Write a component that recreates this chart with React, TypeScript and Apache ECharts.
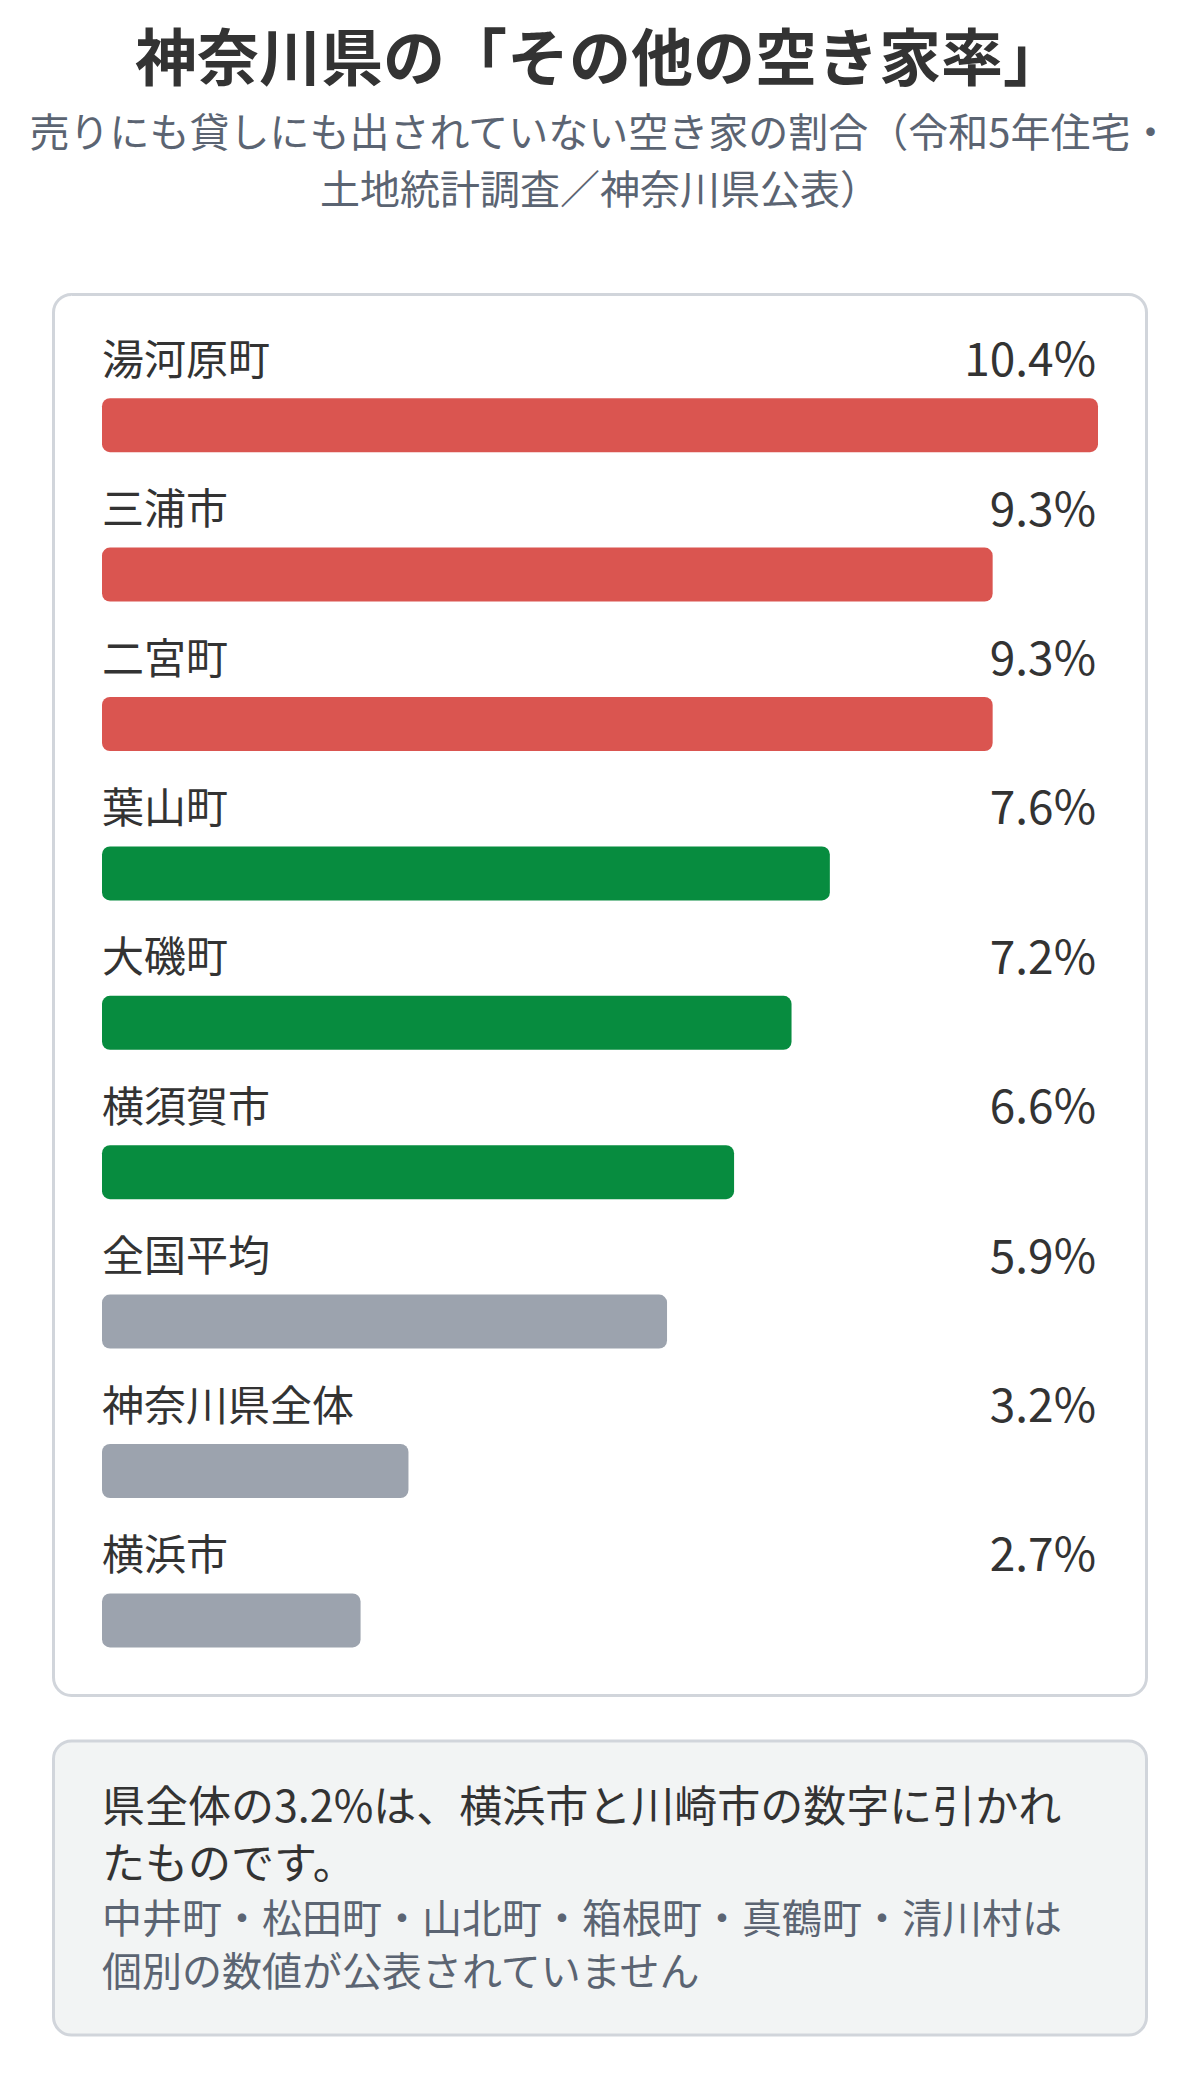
import React, { useEffect, useRef } from "react";
import * as echarts from "echarts";

// ---- data ----
const categories: string[] = [
  "湯河原町",
  "三浦市",
  "二宮町",
  "葉山町",
  "大磯町",
  "横須賀市",
  "全国平均",
  "神奈川県全体",
  "横浜市",
];
const values: number[] = [10.4, 9.3, 9.3, 7.6, 7.2, 6.6, 5.9, 3.2, 2.7];
const groups: string[] = ["high", "high", "high", "mid", "mid", "mid", "ref", "ref", "ref"];
const groupColors: Record<string, string> = {
  high: "#da5550",
  mid: "#078c3f",
  ref: "#9ca3ae",
};
const axisMax = 10.4;

const TITLE = "神奈川県の「その他の空き家率」";
const SUBTITLE_LINES: string[] = [
  "売りにも貸しにも出されていない空き家の割合（令和5年住宅・",
  "土地統計調査／神奈川県公表）",
];
const NOTE_MAIN: string[] = ["県全体の3.2%は、横浜市と川崎市の数字に引かれ", "たものです。"];
const NOTE_SUB: string[] = ["中井町・松田町・山北町・箱根町・真鶴町・清川村は", "個別の数値が公表されていません"];

const FONT = '"Noto Sans CJK JP", "Noto Sans", sans-serif';

export default function App() {
  const ref = useRef<HTMLDivElement>(null);

  useEffect(() => {
    if (!ref.current) return;
    const chart = echarts.init(ref.current, undefined, { renderer: "svg" });

    const BAR_H = 54;
    const LABEL_DY = -69;

    const option: any = {
      animation: false,
      backgroundColor: "#ffffff",
      title: [
        {
          text: TITLE,
          left: "center",
          top: 23,
          padding: 0,
          textStyle: {
            fontFamily: FONT,
            fontSize: 62,
            fontWeight: "bold",
            color: "#333333",
            lineHeight: 62,
          },
        },
        {
          text: SUBTITLE_LINES.join("\n"),
          left: "center",
          top: 101,
          padding: 0,
          textStyle: {
            fontFamily: FONT,
            fontSize: 40,
            fontWeight: "normal",
            color: "#5b6472",
            lineHeight: 57,
          },
        },
      ],
      graphic: [
        {
          type: "rect",
          z: 0,
          shape: { x: 53.5, y: 294.5, width: 1093, height: 1401, r: 18 },
          style: { fill: "#ffffff", stroke: "#d1d5db", lineWidth: 3 },
        },
        {
          type: "rect",
          z: 0,
          shape: { x: 53.5, y: 1741, width: 1093, height: 294, r: 18 },
          style: { fill: "#f2f4f4", stroke: "#d1d5db", lineWidth: 3 },
        },
        {
          type: "text",
          z: 1,
          x: 102,
          y: 1774,
          style: {
            text: NOTE_MAIN.join("\n"),
            fontFamily: FONT,
            fontSize: 43,
            lineHeight: 57,
            fill: "#333333",
            align: "left",
            verticalAlign: "top",
          },
        },
        {
          type: "text",
          z: 1,
          x: 102,
          y: 1889,
          style: {
            text: NOTE_SUB.join("\n"),
            fontFamily: FONT,
            fontSize: 40,
            lineHeight: 53,
            fill: "#5b6472",
            align: "left",
            verticalAlign: "top",
          },
        },
      ],
      grid: {
        left: 102,
        top: 350.5,
        width: 996,
        height: 1344.6,
        containLabel: false,
      },
      xAxis: {
        type: "value",
        min: 0,
        max: axisMax,
        show: false,
      },
      yAxis: {
        type: "category",
        data: categories,
        inverse: true,
        show: false,
      },
      series: [
        {
          type: "custom",
          clip: false,
          z: 5,
          data: values.map((v, i) => [v, i]),
          encode: { x: 0, y: 1 },
          renderItem: (params: any, api: any) => {
            const idx = params.dataIndex;
            const v = api.value(0);
            const start = api.coord([0, idx]);
            const end = api.coord([v, idx]);
            const cs = params.coordSys;
            const cy = start[1];
            const color = groupColors[groups[idx]];
            return {
              type: "group",
              children: [
                {
                  type: "rect",
                  shape: {
                    x: start[0],
                    y: cy - BAR_H / 2,
                    width: end[0] - start[0],
                    height: BAR_H,
                    r: 8,
                  },
                  style: { fill: color },
                },
                {
                  type: "text",
                  x: start[0],
                  y: cy + LABEL_DY,
                  style: {
                    text: categories[idx],
                    fontFamily: FONT,
                    fontSize: 42,
                    fill: "#333333",
                    align: "left",
                    verticalAlign: "middle",
                  },
                },
                {
                  type: "text",
                  x: cs.x + cs.width - 2,
                  y: cy + LABEL_DY,
                  style: {
                    text: v.toFixed(1) + "%",
                    fontFamily: FONT,
                    fontSize: 46,
                    fontWeight: "normal",
                    fill: "#333333",
                    align: "right",
                    verticalAlign: "middle",
                  },
                },
              ],
            };
          },
        },
      ],
    };

    chart.setOption(option);
    return () => {
      chart.dispose();
    };
  }, []);

  return (
    <div
      ref={ref}
      style={{ position: "absolute", left: 0, top: 0, width: 1200, height: 2083 }}
    />
  );
}
